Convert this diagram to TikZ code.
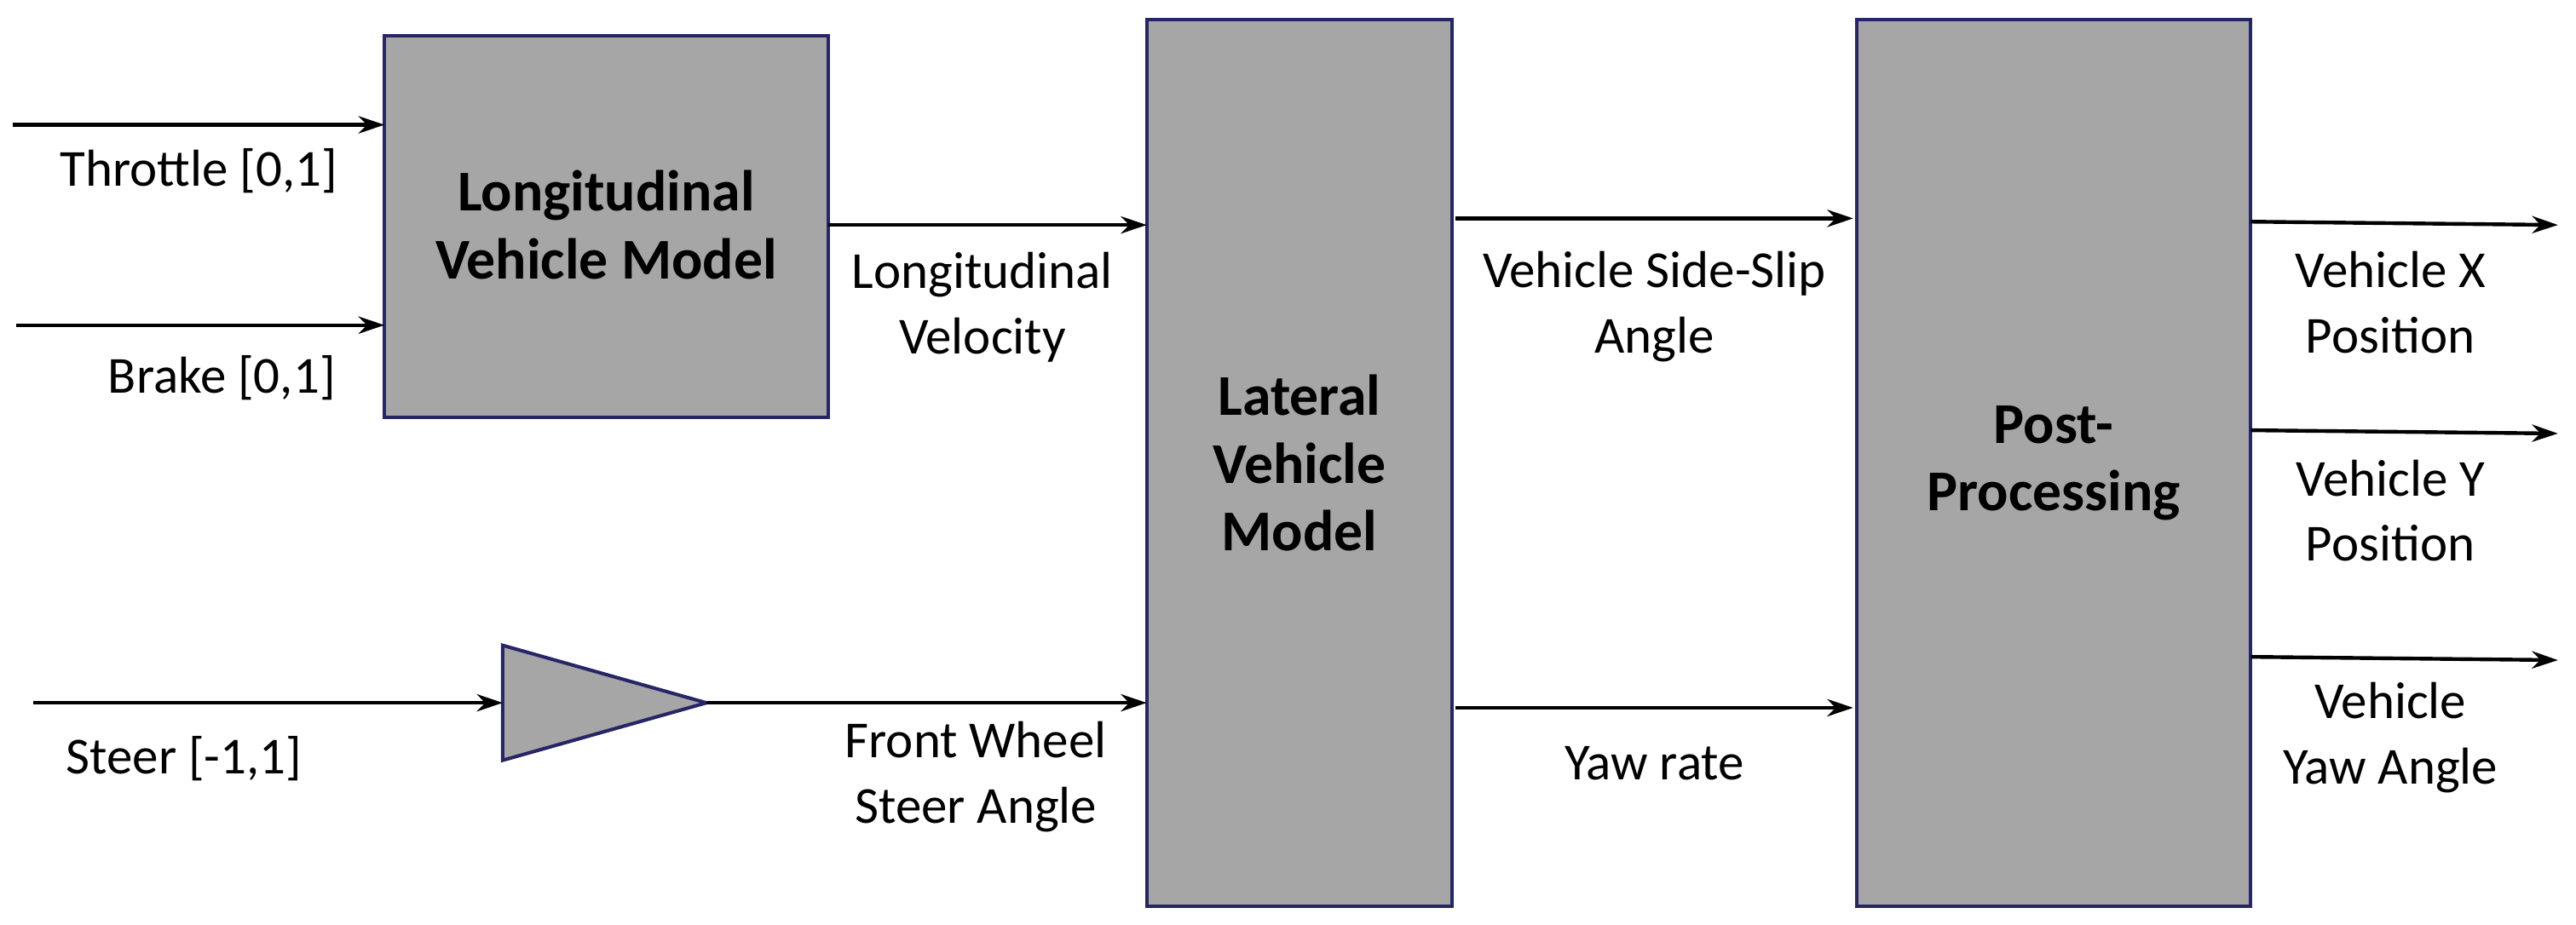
\documentclass[tikz,border=0pt]{standalone}
\usepackage{fontspec}
\setmainfont{Carlito}
\usetikzlibrary{arrows.meta}
\begin{document}
\begin{tikzpicture}[x=0.02cm,y=-0.02cm,
  blk/.style={draw=blue!30!black!85,line width=1.2pt,fill=black!35,inner sep=0pt},
  arr/.style={line width=1.3pt,-{Stealth[length=9pt,width=6pt]}},
  lbl/.style={font=\fontsize{18}{22.7}\selectfont,align=center},
  blbl/.style={font=\fontsize{20}{23.5}\selectfont\bfseries,align=center}]
\useasboundingbox (0,0) rectangle (1568,563);
\draw[blk] (234,22) rectangle (504,254);
\node[blbl] (b1) at (369,137) {Longitudinal\\Vehicle Model};
\draw[blk] (698,12) rectangle (884,552);
\node[blbl] (b2) at (791,282) {Lateral\\Vehicle\\Model};
\draw[blk] (1130,12) rectangle (1370,552);
\node[blbl] (b3) at (1250,282) {Post-\\Processing};
\draw[blk] (306,393) -- (306,463) -- (430,428) -- cycle;
\coordinate (tri) at (430,428);
\foreach \n/\x/\y in {t0/8/76,t1/234/76,r0/10/198,r1/234/198,s0/20/428,s1/306/428,f1/698/428,
  v0/504/137,v1/698/137,a0/886/133,a1/1128/133,y0/886/431,y1/1128/431,
  x0/1370/135,x1/1557/137,p0/1370/262,p1/1557/264,w0/1370/400,w1/1557/402}
  \coordinate (\n) at (\x,\y);
\draw[arr] (t0) -- (t1);
\draw[arr] (r0) -- (r1);
\draw[arr] (s0) -- (s1);
\draw[arr] (tri) -- (f1);
\draw[arr] (v0) -- (v1);
\draw[arr] (a0) -- (a1);
\draw[arr] (y0) -- (y1);
\draw[arr] (x0) -- (x1);
\draw[arr] (p0) -- (p1);
\draw[arr] (w0) -- (w1);
\node[lbl] (l1) at (121,104) {Throttle [0,1]};
\node[lbl] (l2) at (135,230) {Brake [0,1]};
\node[lbl] (l3) at (112,462) {Steer [-1,1]};
\node[lbl] (l4) at (594,473) {Front Wheel\\Steer Angle};
\node[lbl] (l5) at (598,187) {Longitudinal\\Velocity};
\node[lbl] (l6) at (1007,187) {Vehicle Side-Slip\\Angle};
\node[lbl] (l7) at (1007,465) {Yaw rate};
\node[lbl] (l8) at (1455,184) {Vehicle X\\Position};
\node[lbl] (l9) at (1455,311) {Vehicle Y\\Position};
\node[lbl] (l10) at (1455,449) {Vehicle\\Yaw Angle};
\end{tikzpicture}
\end{document}
